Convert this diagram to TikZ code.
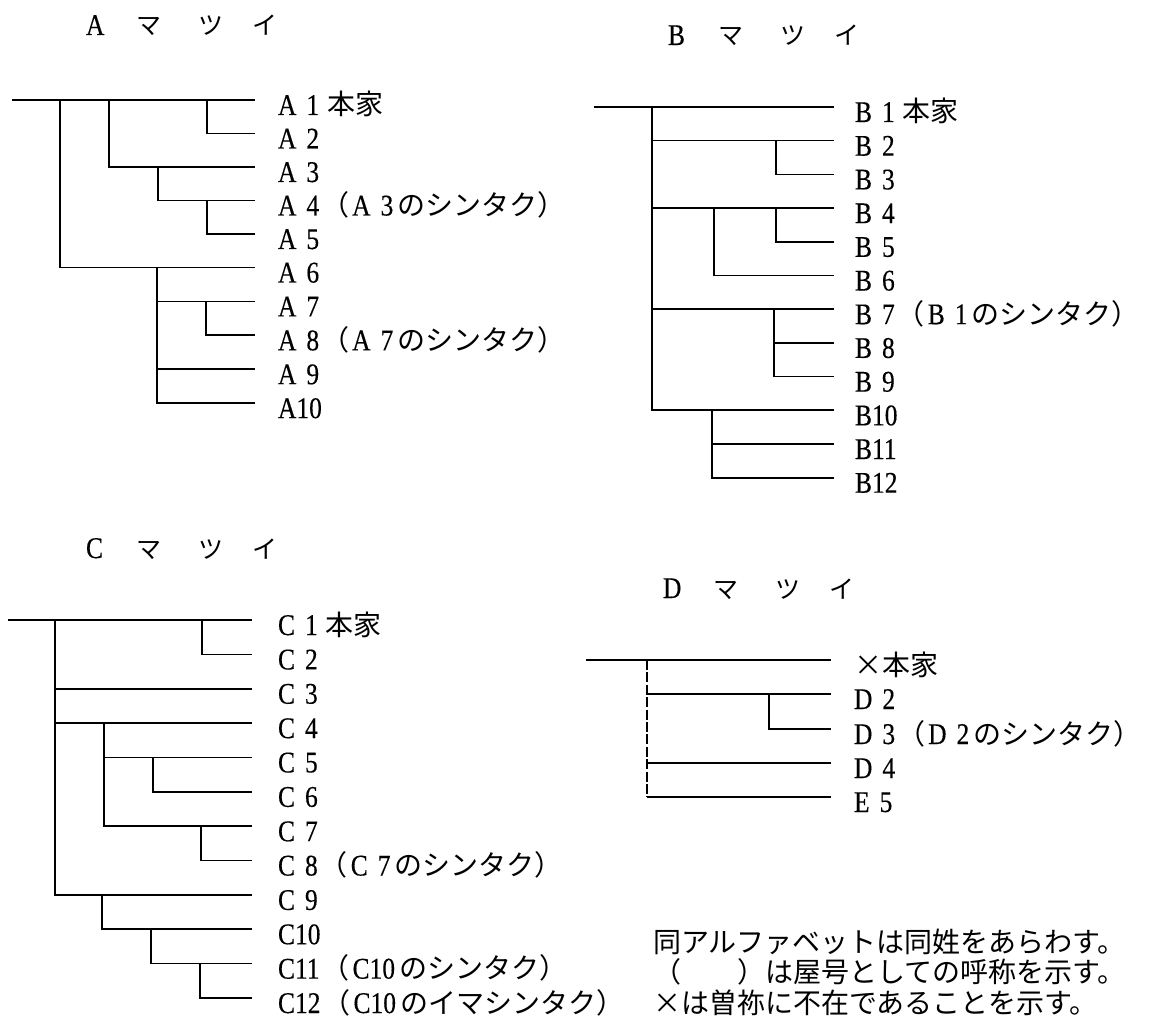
\documentclass[tikz,border=0pt]{standalone}
\usepackage{fontspec}
\newfontfamily\lat{Liberation Serif}[FakeStretch=0.85,FakeBold=0.3]
\newfontfamily\jp{Noto Sans CJK JP}
\newcommand\lsp{\hspace{5pt}}
\newcommand\J[1]{{\jp\fontsize{14}{16}\selectfont #1}}
\newcommand\T[1]{{\jp\fontsize{12.5}{14}\selectfont #1}}
\newcommand\op{\hspace{1pt}\J{（}\hspace{1.5pt}}
\newcommand\frow[5]{\coordinate (#1) at (#2,#3); \node[lbl] (#1t) at (#4,#3) {#5};}
\begin{document}
\begin{tikzpicture}[x=0.5pt,y=-0.5pt,
  line width=0.8pt,
  lbl/.style={anchor=base west, inner sep=0pt, outer sep=0pt,
    font=\lat\fontsize{15}{17}\selectfont, yshift=-7.5pt},
  ttl/.style={anchor=base west, inner sep=0pt, outer sep=0pt,
    font=\lat\fontsize{15}{17}\selectfont},
  note/.style={anchor=base west, inner sep=0pt, outer sep=0pt,
    font=\jp\fontsize{14}{16}\selectfont},
  dvert/.style={line width=0.6pt, dash pattern=on 5pt off 1.2pt}]
\fill[white] (0,0) rectangle (1151,1021);
\useasboundingbox (0,0) rectangle (1151,1021);

% ---------- titles ----------
\node[ttl] (tA1) at (86,35) {A};
\node[ttl] (tA2) at (136,35) {\T{マ}};
\node[ttl] (tA3) at (198,35) {\T{ツ}};
\node[ttl] (tA4) at (252,35) {\T{イ}};
\node[ttl] (tB1) at (668,45) {B};
\node[ttl] (tB2) at (718,45) {\T{マ}};
\node[ttl] (tB3) at (780,45) {\T{ツ}};
\node[ttl] (tB4) at (834,45) {\T{イ}};
\node[ttl] (tC1) at (86,558) {C};
\node[ttl] (tC2) at (136,558) {\T{マ}};
\node[ttl] (tC3) at (198,558) {\T{ツ}};
\node[ttl] (tC4) at (252,558) {\T{イ}};
\node[ttl] (tD1) at (663,598) {D};
\node[ttl] (tD2) at (713,598) {\T{マ}};
\node[ttl] (tD3) at (775,598) {\T{ツ}};
\node[ttl] (tD4) at (829,598) {\T{イ}};

% ---------- tree A ----------
\frow{a1}{255}{100}{278}{A\lsp 1\hspace{4pt}\J{本家}}
\frow{a2}{255}{133.5}{278}{A\lsp 2}
\frow{a3}{255}{167}{278}{A\lsp 3}
\frow{a4}{255}{200.5}{278}{A\lsp 4\op A\lsp 3\hspace{2pt}\J{のシンタク）}}
\frow{a5}{255}{234}{278}{A\lsp 5}
\frow{a6}{255}{267.5}{278}{A\lsp 6}
\frow{a7}{255}{301.4}{278}{A\lsp 7}
\frow{a8}{255}{335.3}{278}{A\lsp 8\op A\lsp 7\hspace{2pt}\J{のシンタク）}}
\frow{a9}{255}{369.2}{278}{A\lsp 9}
\frow{a10}{255}{403.1}{278}{A10}
\coordinate (a0) at (12,100);
\coordinate (pa1) at (60,100);
\coordinate (pa2) at (109,100);
\coordinate (pa3) at (207,100);
\coordinate (pa4) at (158,167);
\coordinate (pa5) at (207,200.5);
\coordinate (pa6) at (157,267.5);
\coordinate (pa7) at (206,301.4);
\draw (a0) -- (a1);
\draw (pa1) |- (a6);
\draw (pa2) |- (a3);
\draw (pa3) |- (a2);
\draw (pa4) |- (a4);
\draw (pa5) |- (a5);
\draw (pa6) |- (a10);
\draw (pa6 |- a7) -- (a7);
\draw (pa6 |- a9) -- (a9);
\draw (pa7) |- (a8);

% ---------- tree B ----------
\frow{b1}{834}{107}{855}{B\lsp 1\hspace{4pt}\J{本家}}
\frow{b2}{834}{140.7}{855}{B\lsp 2}
\frow{b3}{834}{174.4}{855}{B\lsp 3}
\frow{b4}{834}{208.1}{855}{B\lsp 4}
\frow{b5}{834}{241.8}{855}{B\lsp 5}
\frow{b6}{834}{275.5}{855}{B\lsp 6}
\frow{b7}{834}{309.2}{855}{B\lsp 7\op B\lsp 1\hspace{2pt}\J{のシンタク）}}
\frow{b8}{834}{342.9}{855}{B\lsp 8}
\frow{b9}{834}{376.6}{855}{B\lsp 9}
\frow{b10}{834}{410.3}{855}{B10}
\frow{b11}{834}{444}{855}{B11}
\frow{b12}{834}{477.7}{855}{B12}
\coordinate (b0) at (594,107);
\coordinate (pb1) at (652,107);
\coordinate (pb2) at (776,140.7);
\coordinate (pb3) at (714,208.1);
\coordinate (pb4) at (776,208.1);
\coordinate (pb5) at (774,309.2);
\coordinate (pb6) at (712,410.3);
\draw (b0) -- (b1);
\draw (pb1) |- (b10);
\draw (pb1 |- b2) -- (b2);
\draw (pb1 |- b4) -- (b4);
\draw (pb1 |- b7) -- (b7);
\draw (pb2) |- (b3);
\draw (pb3) |- (b6);
\draw (pb4) |- (b5);
\draw (pb5) |- (b9);
\draw (pb5 |- b8) -- (b8);
\draw (pb6) |- (b12);
\draw (pb6 |- b11) -- (b11);

% ---------- tree C ----------
\frow{c1}{252}{620}{278}{C\lsp 1\hspace{4pt}\J{本家}}
\frow{c2}{252}{654.4}{278}{C\lsp 2}
\frow{c3}{252}{688.7}{278}{C\lsp 3}
\frow{c4}{252}{723.1}{278}{C\lsp 4}
\frow{c5}{252}{757.4}{278}{C\lsp 5}
\frow{c6}{252}{791.8}{278}{C\lsp 6}
\frow{c7}{252}{826.2}{278}{C\lsp 7}
\frow{c8}{252}{860.5}{278}{C\lsp 8\op C\lsp 7\hspace{2pt}\J{のシンタク）}}
\frow{c9}{252}{894.9}{278}{C\lsp 9}
\frow{c10}{252}{929.2}{278}{C10}
\frow{c11}{252}{963.6}{278}{C11\op C10\hspace{2pt}\J{のシンタク）}}
\frow{c12}{252}{998}{278}{C12\op C10\hspace{2pt}\J{のイマシンタク）}}
\coordinate (c0) at (8,620);
\coordinate (pc1) at (55,620);
\coordinate (pc2) at (202,620);
\coordinate (pc3) at (104,723.1);
\coordinate (pc4) at (153,757.4);
\coordinate (pc5) at (201,826.2);
\coordinate (pc6) at (102,894.9);
\coordinate (pc7) at (151,929.2);
\coordinate (pc8) at (200,963.6);
\draw (c0) -- (c1);
\draw (pc1) |- (c9);
\draw (pc1 |- c3) -- (c3);
\draw (pc1 |- c4) -- (c4);
\draw (pc2) |- (c2);
\draw (pc3) |- (c7);
\draw (pc3 |- c5) -- (c5);
\draw (pc4) |- (c6);
\draw (pc5) |- (c8);
\draw (pc6) |- (c10);
\draw (pc7) |- (c11);
\draw (pc8) |- (c12);

% ---------- tree D ----------
\frow{d1}{831}{660}{854}{\J{×本家}}
\frow{d2}{831}{694}{854}{D\lsp 2}
\frow{d3}{831}{729}{854}{D\lsp 3\op D\lsp 2\hspace{2pt}\J{のシンタク）}}
\frow{d4}{831}{763}{854}{D\lsp 4}
\frow{d5}{831}{797}{854}{E\lsp 5}
\coordinate (d0) at (586,660);
\coordinate (pd1) at (647,660);
\coordinate (pd2) at (769,694);
\draw (d0) -- (d1);
\draw[dvert] (pd1) -- (pd1 |- d5);
\draw (pd1 |- d2) -- (d2);
\draw (pd1 |- d4) -- (d4);
\draw (pd1 |- d5) -- (d5);
\draw (pd2) |- (d3);

% ---------- notes ----------
\node[note] (n1) at (653,952) {同アルファベットは同姓をあらわす。};
\node[note] (n2) at (653,982) {（　　）は屋号としての呼称を示す。};
\node[note] (n3) at (653,1013) {×は曽祢に不在であることを示す。};
\end{tikzpicture}
\end{document}
